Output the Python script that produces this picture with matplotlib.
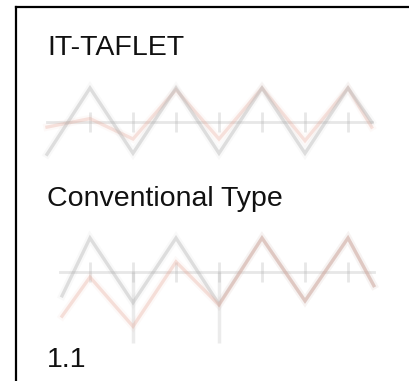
import matplotlib
matplotlib.use("Agg")
import matplotlib.pyplot as plt
from matplotlib.lines import Line2D

# ---- data ----
titles = ["IT-TAFLET", "Conventional Type", "1.1"]

top_t = [0, 1, 2, 3, 4, 5, 6, 7, 7.55]
top_grey = [-0.95, 1.0, -0.92, 1.0, -0.92, 1.0, -0.92, 1.0, 0.0]
top_pink_t = [0, 1, 2, 3, 4, 5, 6, 7, 7.55]
top_pink = [-0.15, 0.1, -0.5, 0.95, -0.5, 1.0, -0.55, 1.0, -0.15]

bot_t = [0.35, 1, 2, 3, 4, 5, 6, 7, 7.6]
bot_grey = [-0.7, 1.0, -0.9, 1.0, -0.95, 1.0, -0.85, 1.0, -0.4]
bot_pink = [-1.3, -0.15, -1.6, 0.3, -0.97, 1.0, -0.85, 1.0, -0.4]

tick_t = [1, 2, 3, 4, 5, 6, 7]
spike_t = [2, 4]
spike_low = [-2.1, -2.1]

W, H = 409, 381
fig = plt.figure(figsize=(W / 100, H / 100), dpi=100)
fig.patch.set_facecolor("white")

grey = "#b0b0b0"
pink = "#e6a898"


def make_ax(ytop_px, ybot_px, yaxis_px, scale=34.0):
    ax = fig.add_axes([0, 1 - ybot_px / H, 1, (ybot_px - ytop_px) / H])
    ax.set_xlim(-47 / 43, (W - 47) / 43)
    ax.set_ylim(-(ybot_px - yaxis_px) / scale, (yaxis_px - ytop_px) / scale)
    ax.axis("off")
    ax.patch.set_alpha(0)
    return ax


def draw_wave(ax, t, v, color, lw=2.4, alpha=0.35):
    ax.plot(t, v, color=color, lw=lw + 3, alpha=alpha * 0.2, solid_joinstyle="miter")
    ax.plot(t, v, color=color, lw=lw, alpha=alpha, solid_joinstyle="miter")


# top panel
ax1 = make_ax(60, 175, 122)
ax1.plot([0.0, 7.55], [0, 0], color=grey, lw=2, alpha=0.3)
ax1.vlines(tick_t, -0.3, 0.3, color=grey, lw=2, alpha=0.3)
draw_wave(ax1, top_pink_t, top_pink, pink, alpha=0.3)
draw_wave(ax1, top_t, top_grey, grey, alpha=0.38)

# bottom panel
ax2 = make_ax(215, 355, 272)
ax2.plot([0.3, 7.6], [0, 0], color=grey, lw=2, alpha=0.3)
ax2.vlines(tick_t, -0.3, 0.3, color=grey, lw=2, alpha=0.3)
ax2.vlines(spike_t, spike_low, [0, 0], color=grey, lw=2.5, alpha=0.25)
draw_wave(ax2, bot_t, bot_grey, grey, alpha=0.38)
draw_wave(ax2, bot_t, bot_pink, pink, alpha=0.33)

# frame
fig.add_artist(Line2D([16 / W, 1], [1 - 7 / H, 1 - 7 / H], color="black", lw=1.6,
                      transform=fig.transFigure))
fig.add_artist(Line2D([16 / W, 16 / W], [0, 1 - 7 / H], color="black", lw=1.6,
                      transform=fig.transFigure))

# texts
for txt, base in zip(titles, [55, 206, 367]):
    fig.text(47 / W, 1 - base / H, txt, fontsize=20.5, family="Liberation Sans",
             va="baseline", ha="left", color="#111111")

fig.savefig("out.png", dpi=100, facecolor="white")
